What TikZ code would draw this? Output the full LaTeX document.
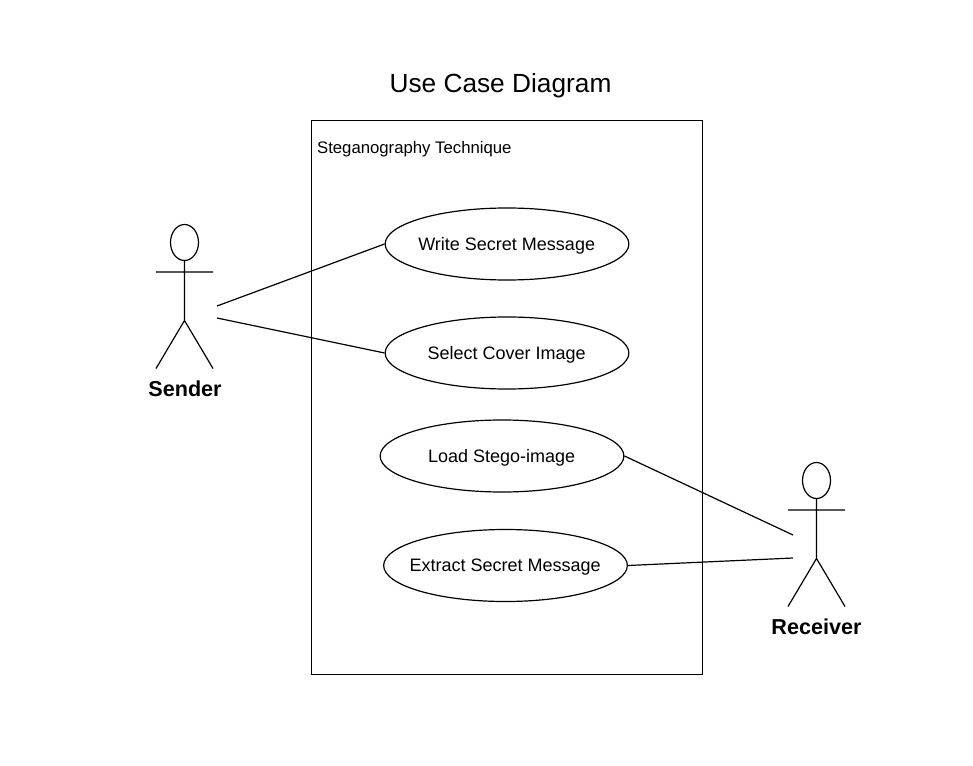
\documentclass[tikz,border=0pt]{standalone}
\usepackage{fontspec}
\setmainfont{Liberation Sans}
\usetikzlibrary{shapes.geometric}
\tikzset{
 uc/.style={draw,ellipse,minimum width=182.8pt,minimum height=54pt,inner sep=0pt,font=\fontsize{13.5}{16}\selectfont},
 headshape/.style={draw,ellipse,minimum width=21pt,minimum height=27pt,inner sep=0pt},
 actorlabel/.style={font=\fontsize{16.2}{20}\selectfont\bfseries,inner sep=0pt},
 plain/.style={inner sep=0pt},
 every path/.style={line width=0.9pt}
}
\newcommand{\uctext}[1]{\raisebox{-4.85pt}[0pt][0pt]{\makebox[0pt]{\kern-0.5pt #1}}}
\newcommand{\stick}[3]{%
 \pgfmathsetmacro{\hy}{#2+18}
 \pgfmathsetmacro{\hp}{#2+96}
 \pgfmathsetmacro{\ay}{#2+47.5}
 \pgfmathsetmacro{\ft}{#2+144}
 \pgfmathsetmacro{\xl}{#1-28.5}
 \pgfmathsetmacro{\xr}{#1+28.5}
 \node[headshape] (#3head) at (#1,\hy) {};
 \coordinate (#3hip) at (#1,\hp);
 \coordinate (#3arml) at (\xl,\ay);
 \coordinate (#3armr) at (\xr,\ay);
 \coordinate (#3footl) at (\xl,\ft);
 \coordinate (#3footr) at (\xr,\ft);
 \draw (#3head.south) -- (#3hip) (#3arml) -- (#3armr) (#3hip) -- (#3footl) (#3hip) -- (#3footr);
}
\begin{document}
\begin{tikzpicture}[x=0.75pt,y=-0.75pt]
\useasboundingbox (0,0) rectangle (973,766);
\node[plain,font=\fontsize{19.7}{24}\selectfont] (title) at (500.5,86) {Use Case Diagram};
\node[draw,minimum width=293pt,minimum height=415.5pt,inner sep=0pt] (sys) at (507,397.5) {};
\node[plain,anchor=west,font=\fontsize{12.55}{16}\selectfont] (systitle) at (316.5,149) {Steganography Technique};
\node[uc] (u1) at (507,244) {\uctext{Write Secret Message}};
\node[uc] (u2) at (507,353) {\uctext{Select Cover Image}};
\node[uc] (u3) at (502,456) {\uctext{Load Stego-image}};
\node[uc] (u4) at (505.5,565.5) {\uctext{Extract Secret Message}};
\stick{184.5}{224.5}{s}
\stick{816.5}{462.5}{r}
\node[actorlabel] (slabel) at (185,389) {Sender};
\node[actorlabel] (rlabel) at (816.5,627) {Receiver};
\coordinate (s1) at (217,306);
\coordinate (s2) at (217,318);
\coordinate (r1) at (793,535);
\coordinate (r2) at (793,558);
\draw (s1) -- (u1.west);
\draw (s2) -- (u2.west);
\draw (u3.east) -- (r1);
\draw (u4.east) -- (r2);
\end{tikzpicture}
\end{document}
